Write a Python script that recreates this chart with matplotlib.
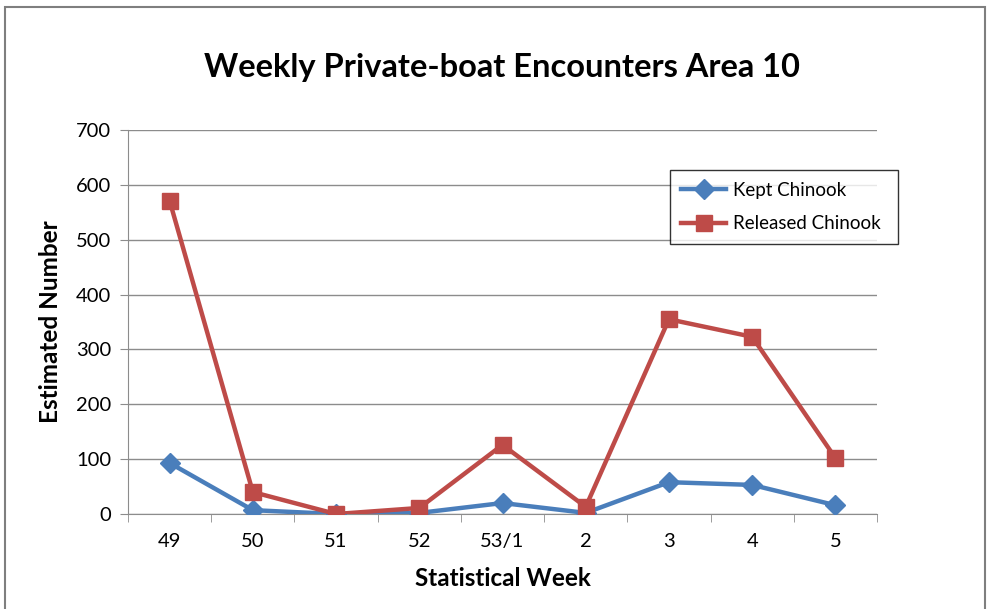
import matplotlib
matplotlib.use('Agg')
import matplotlib.pyplot as plt
import numpy as np
from matplotlib.patches import Rectangle

# data
weeks = ['49', '50', '51', '52', '53/1', '2', '3', '4', '5']
kept = [93, 7, 0, 2, 20, 2, 58, 53, 16]
released = [571, 40, 0, 11, 126, 13, 355, 323, 102]

plt.rcParams['font.family'] = ['Lato', 'DejaVu Sans']

fig = plt.figure(figsize=(9.88, 6.09), dpi=100)
ax = fig.add_axes([128/988, 95/609, 749/988, 384/609])

x = np.arange(len(weeks))
ax.plot(x, kept, color='#4A7EBB', lw=3.2, marker='D', ms=10, label='Kept Chinook', zorder=3)
ax.plot(x, released, color='#BE4B48', lw=3.2, marker='s', ms=12, label='Released Chinook', zorder=4)

ax.set_xlim(-0.5, len(weeks) - 0.5)
ax.set_ylim(0, 700)
ax.set_yticks(range(0, 701, 100))
ax.yaxis.grid(True, color='#8C8C8C', lw=1)
ax.set_axisbelow(True)

ax.set_xticks(x)
ax.set_xticklabels(weeks, fontsize=14.5)
ax.set_xticks(np.arange(-0.5, len(weeks)), minor=True)
ax.tick_params(axis='x', which='major', length=0, pad=14)
ax.tick_params(axis='x', which='minor', length=6, color='#8C8C8C', direction='out')
ax.tick_params(axis='y', length=6, color='#8C8C8C', labelsize=14.5, pad=6)

for s in ['top', 'right']:
    ax.spines[s].set_visible(False)
for s in ['left', 'bottom']:
    ax.spines[s].set_color('#8C8C8C')

ax.set_xlabel('Statistical Week', fontsize=17.5, fontweight='bold', labelpad=12)
ax.set_ylabel('Estimated Number', fontsize=17.5, fontweight='bold', labelpad=10)
fig.text(502/988, 1 - 67/609, 'Weekly Private-boat Encounters Area 10', fontsize=23.5,
         fontweight='bold', ha='center', va='center')

leg = ax.legend(loc='center left', bbox_to_anchor=(670/988, 1 - 248/609, 228/988, 82/609),
                bbox_transform=fig.transFigure, mode='expand', fontsize=13.5, frameon=True,
                fancybox=False, edgecolor='black', handlelength=2.4, handletextpad=0.35,
                borderaxespad=0, labelspacing=0.9, borderpad=0.6)
leg.get_frame().set_linewidth(1)
leg.set_zorder(6)

# outer chart border
fig.patches.append(Rectangle((5/988, -0.05), 980/988, 1.05 - 7/609, transform=fig.transFigure,
                             fill=False, edgecolor='#7F7F7F', lw=1.5))

fig.savefig('out.png', dpi=100)
